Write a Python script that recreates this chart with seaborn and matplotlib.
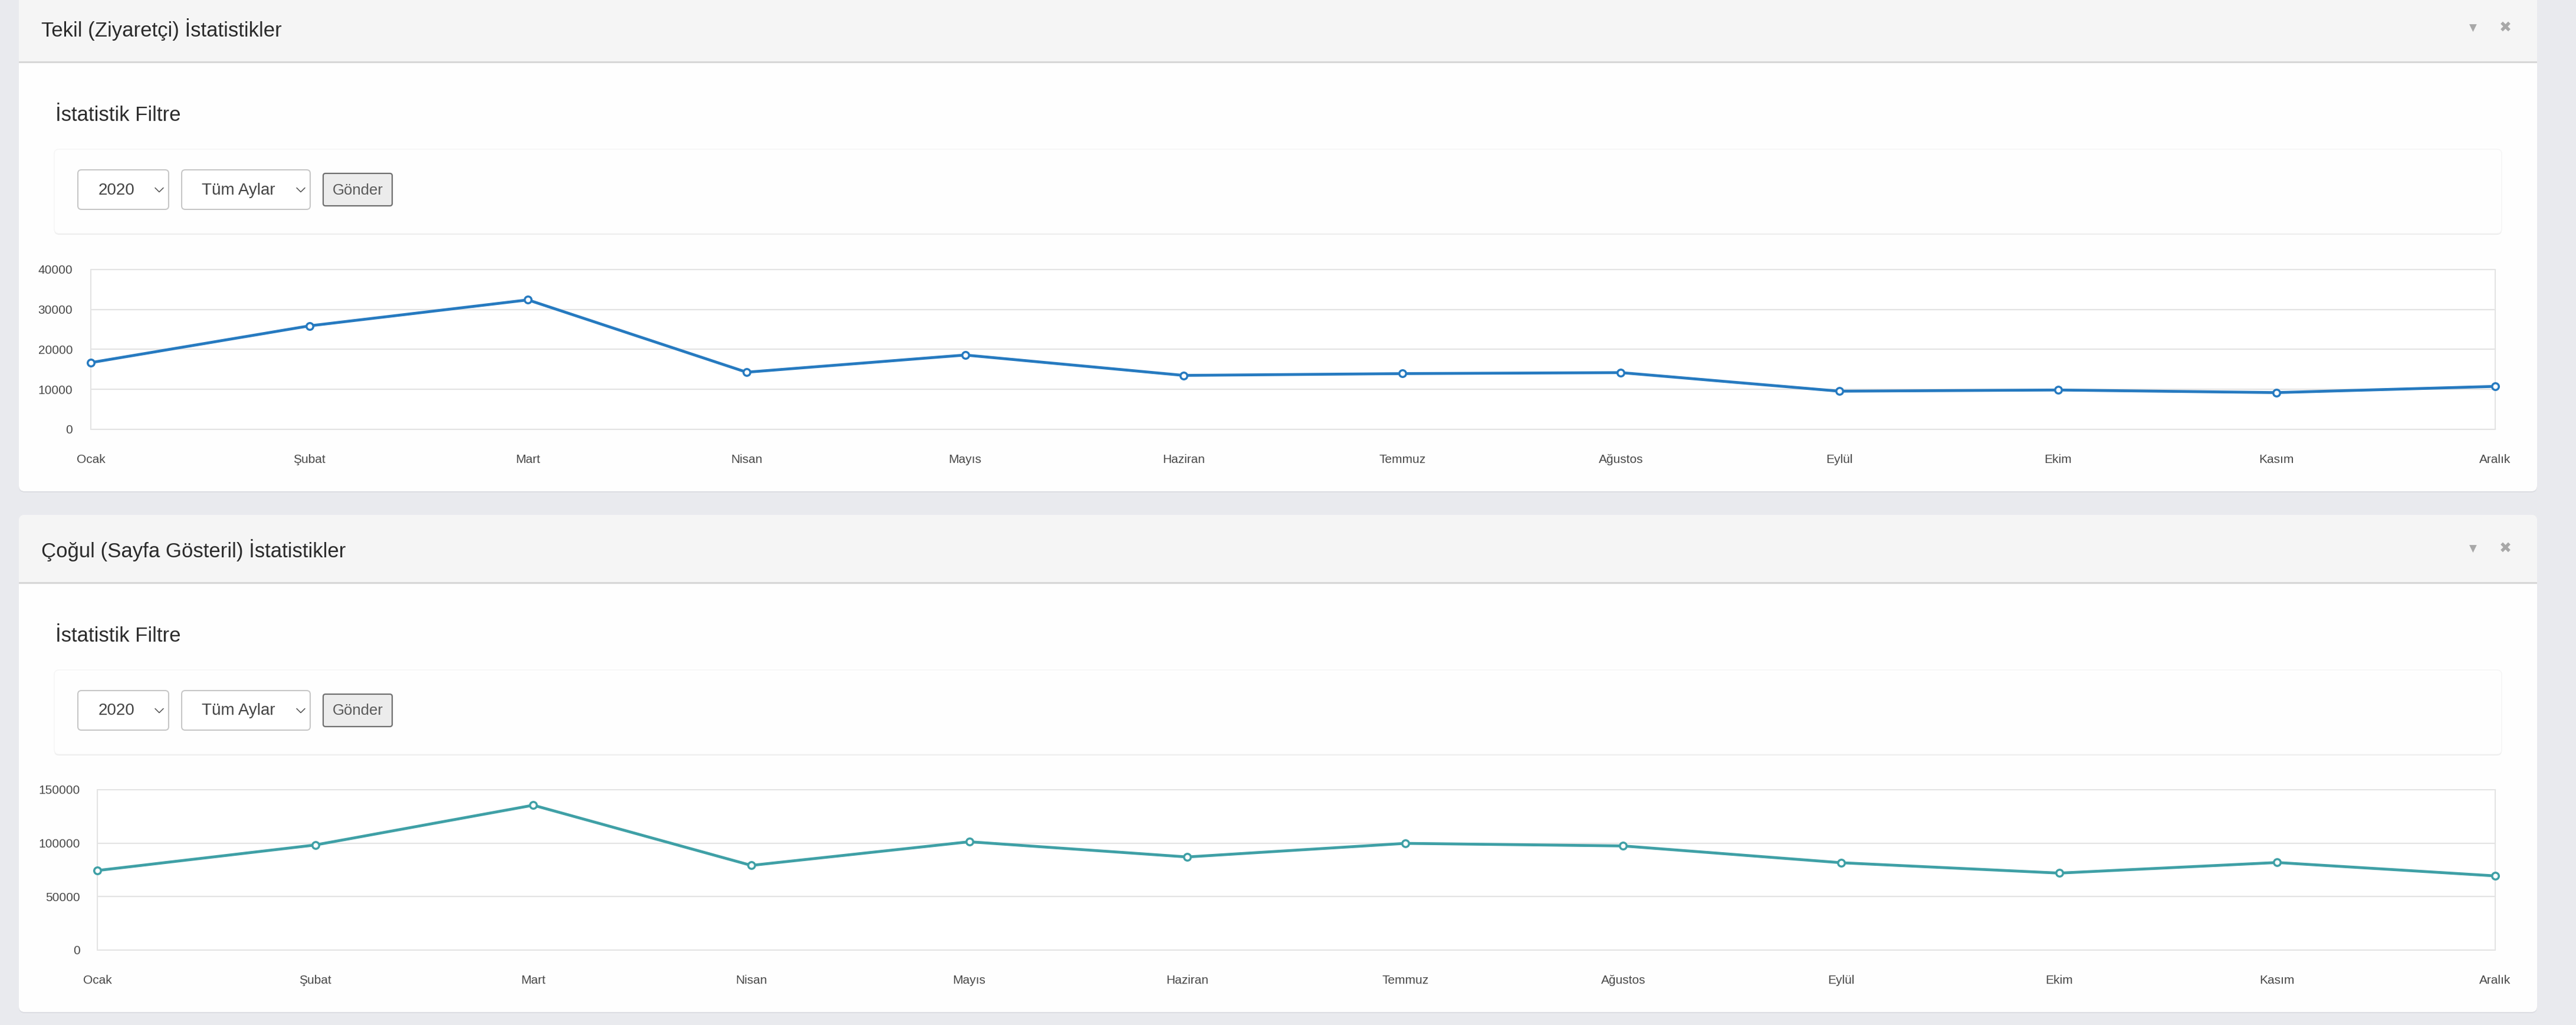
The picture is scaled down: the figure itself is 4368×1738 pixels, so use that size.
import numpy as np
import pandas as pd
import matplotlib
matplotlib.use("Agg")
import matplotlib.pyplot as plt
from matplotlib.patches import FancyBboxPatch, Rectangle
from matplotlib.lines import Line2D
import seaborn as sns

# ---------------- data ----------------
months = ["Ocak", "Şubat", "Mart", "Nisan", "Mayıs", "Haziran",
          "Temmuz", "Ağustos", "Eylül", "Ekim", "Kasım", "Aralık"]
tekil_values = [16700, 25900, 32400, 14300, 18600, 13500,
                13950, 14200, 9550, 9850, 9200, 10750]
cogul_values = [74400, 98300, 135500, 79200, 101300, 87100,
                99800, 97400, 81700, 72000, 81900, 69400]
tekil_ticks = [0, 10000, 20000, 30000, 40000]
cogul_ticks = [0, 50000, 100000, 150000]
panel_titles = ["Tekil (Ziyaretçi) İstatistikler", "Çoğul (Sayfa Gösteril) İstatistikler"]
filter_title = "İstatistik Filtre"
year_label = "2020"
month_label = "Tüm Aylar"
button_label = "Gönder"

# ---------------- style ----------------
sns.set_style("white")
plt.rcParams['font.family'] = ['Liberation Sans', 'DejaVu Sans']

W, H = 4368, 1738
DPI = 100
fig = plt.figure(figsize=(W / DPI, H / DPI), dpi=DPI)
fig.patch.set_facecolor('#e9eaee')

bg = fig.add_axes([0, 0, 1, 1])
bg.set_xlim(0, W)
bg.set_ylim(H, 0)
bg.axis('off')
bg.patch.set_alpha(0)

PX = 72 / DPI  # points per pixel


def panel(top, title):
    left, right, bottom = 32, 4302, top + 843
    # shadow
    bg.add_patch(FancyBboxPatch((left, top + 2), right - left, bottom - top,
                                boxstyle="round,pad=0,rounding_size=10",
                                fc='#dcdde2', ec='none', zorder=1))
    bg.add_patch(FancyBboxPatch((left, top), right - left, bottom - top,
                                boxstyle="round,pad=0,rounding_size=10",
                                fc='#fefefe', ec='none', zorder=2))
    # header
    bg.add_patch(FancyBboxPatch((left, top), right - left, 114,
                                boxstyle="round,pad=0,rounding_size=10",
                                fc='#f5f5f5', ec='none', zorder=3))
    bg.add_patch(Rectangle((left, top + 60), right - left, 54,
                           fc='#f5f5f5', ec='none', zorder=3))
    bg.add_patch(Rectangle((left, top + 114), right - left, 2.5,
                           fc='#d6d6d6', ec='none', zorder=4))
    bg.text(70, top + 72, title, fontsize=25, color='#2b2b2b',
            va='baseline', ha='left', zorder=5)
    # header icons
    bg.text(4193, top + 58, '▼', fontsize=12, color='#a8a8a8',
            ha='center', va='center', family='DejaVu Sans', zorder=5)
    bg.text(4248, top + 57, '✖', fontsize=18, color='#a8a8a8',
            ha='center', va='center', family='DejaVu Sans', zorder=5)
    # filter title
    bg.text(94, top + 215, filter_title, fontsize=25, color='#2b2b2b',
            va='baseline', ha='left', zorder=5)
    # filter card
    ct, cb = top + 263, top + 406
    bg.add_patch(FancyBboxPatch((92, ct + 2), 4150, cb - ct,
                                boxstyle="round,pad=0,rounding_size=8",
                                fc='#ececec', ec='none', zorder=3))
    bg.add_patch(FancyBboxPatch((92, ct), 4150, cb - ct,
                                boxstyle="round,pad=0,rounding_size=8",
                                fc='#fefefe', ec='#f5f5f5', lw=1.5 * PX, zorder=4))
    # selects
    st, sb = top + 298, top + 365
    mid = (st + sb) / 2
    for (x0, x1, label, tx, chev) in [(132, 286, year_label, 197, 270),
                                      (308, 526, month_label, 404, 510)]:
        bg.add_patch(FancyBboxPatch((x0, st), x1 - x0, sb - st,
                                    boxstyle="round,pad=0,rounding_size=6",
                                    fc='white', ec='#c6c6c6', lw=2 * PX, zorder=5))
        bg.text(tx, mid + 1, label, fontsize=20, color='#444444',
                ha='center', va='center', zorder=6)
        bg.add_line(Line2D([chev - 7, chev, chev + 7], [mid - 3, mid + 4, mid - 3],
                           color='#555555', lw=1.6 * PX, zorder=6))
    # button
    bt, bb = top + 304, top + 359
    bg.add_patch(FancyBboxPatch((548, bt), 117, bb - bt,
                                boxstyle="round,pad=0,rounding_size=4",
                                fc='#ececec', ec='#6e6e6e', lw=2.2 * PX, zorder=5))
    bg.text(607, (bt + bb) / 2 + 1, button_label, fontsize=18.5, color='#5a5a5a',
            ha='center', va='center', zorder=6)


panel(-10, panel_titles[0])
panel(873, panel_titles[1])


def chart(left, top, bottom, values, ticks, color, label_right):
    right = 4231
    ax = fig.add_axes([left / W, 1 - bottom / H, (right - left) / W, (bottom - top) / H])
    df = pd.DataFrame({"Ay": months, "Değer": values})
    sns.lineplot(data=df, x="Ay", y="Değer", ax=ax, sort=False, color=color,
                 linewidth=4.8 * PX, marker='o', markersize=11.5 * PX,
                 markerfacecolor='white', markeredgecolor=color,
                 markeredgewidth=3.5 * PX, zorder=5, clip_on=False)
    ax.set_xlim(0, len(months) - 1)
    ax.set_ylim(ticks[0], ticks[-1])
    ax.set_yticks(ticks)
    ax.set_yticklabels([str(t) for t in ticks])
    ax.set_xlabel("")
    ax.set_ylabel("")
    ax.set_facecolor('white')
    ax.grid(axis='y', color='#e3e3e3', linewidth=2.2 * PX)
    ax.grid(axis='x', visible=False)
    for s in ax.spines.values():
        s.set_visible(True)
        s.set_color('#e3e3e3')
        s.set_linewidth(2 * PX)
    ax.tick_params(axis='y', length=0, pad=(left - label_right) * PX,
                   labelsize=15, labelcolor='#484848')
    ax.tick_params(axis='x', length=0, pad=42 * PX, labelsize=15, labelcolor='#484848')
    return ax


chart(154, 457, 728, tekil_values, tekil_ticks, '#267ac0', 123)
chart(165, 1339, 1611, cogul_values, cogul_ticks, '#3fa0a6', 136)

fig.savefig('out.png', dpi=DPI)
